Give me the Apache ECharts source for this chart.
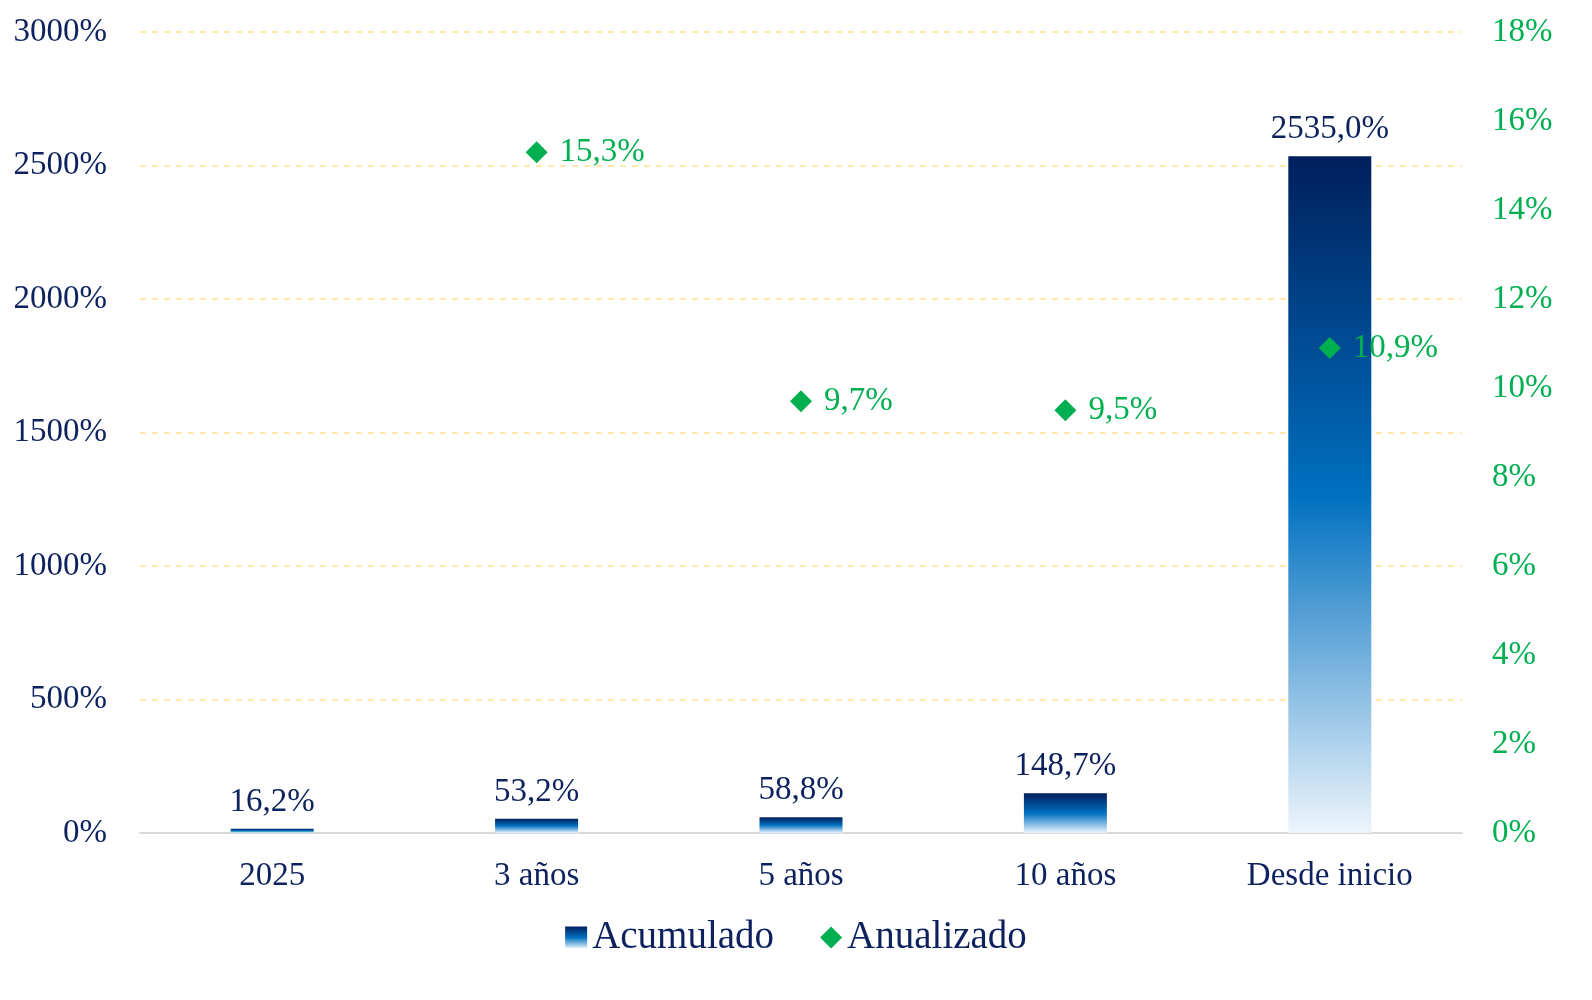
<!DOCTYPE html>
<html>
<head>
<meta charset="utf-8">
<script src="https://cdn.jsdelivr.net/npm/echarts@6/dist/echarts.min.js"></script>
<style>
html,body{margin:0;padding:0;background:#fff;}
#c{width:1592px;height:1000px;}
</style>
</head>
<body>
<div id="c"></div>
<script>
const categories = ['2025', '3 años', '5 años', '10 años', 'Desde inicio'];
const acumulado = [16.2, 53.2, 58.8, 148.7, 2535.0];
const anualizado = [null, 15.3, 9.7, 9.5, 10.9];
const leftTicks = {min: 0, max: 3000, interval: 500};
const rightTicks = {min: 0, max: 18, interval: 2};

const navy = '#0C215E';
const green = '#00B050';
const font = '"Liberation Serif", "Times New Roman", serif';

const barGradient = new echarts.graphic.LinearGradient(0, 0, 0, 1, [
  {offset: 0, color: '#001F5C'},
  {offset: 0.5, color: '#0070C0'},
  {offset: 1, color: '#EDF5FC'}
]);

const fmt = v => v.toFixed(1).replace('.', ',') + '%';

const chart = echarts.init(document.getElementById('c'));
chart.setOption({
  animation: false,
  textStyle: {fontFamily: font},
  grid: {left: 140, right: 130, top: 32, bottom: 167, containLabel: false},
  legend: {
    bottom: 38,
    left: 'center',
    itemWidth: 22,
    itemHeight: 22,
    itemGap: 46,
    textStyle: {fontFamily: font, fontSize: 39, color: navy},
    data: [
      {name: 'Acumulado', icon: 'rect'},
      {name: 'Anualizado', icon: 'diamond', itemStyle: {color: green, opacity: 1}}
    ]
  },
  xAxis: {
    type: 'category',
    data: categories,
    axisLine: {lineStyle: {color: '#D9D9D9', width: 2}},
    axisTick: {show: false},
    axisLabel: {color: navy, fontSize: 33, fontFamily: font, margin: 27}
  },
  yAxis: [
    {
      type: 'value',
      min: leftTicks.min, max: leftTicks.max, interval: leftTicks.interval,
      axisLine: {show: false},
      axisTick: {show: false},
      axisLabel: {color: navy, fontSize: 33, fontFamily: font, margin: 33, formatter: v => v + '%'},
      splitLine: {show: true, lineStyle: {color: '#FFE48F', type: [6, 6], width: 1.5}}
    },
    {
      type: 'value',
      min: rightTicks.min, max: rightTicks.max, interval: rightTicks.interval,
      position: 'right',
      axisLine: {show: false},
      axisTick: {show: false},
      axisLabel: {color: green, fontSize: 33, fontFamily: font, margin: 30, formatter: v => v + '%'},
      splitLine: {show: false}
    }
  ],
  series: [
    {
      name: 'Acumulado',
      type: 'bar',
      yAxisIndex: 0,
      data: acumulado,
      barWidth: 83,
      itemStyle: {color: barGradient},
      label: {
        show: true, position: 'top', distance: 10,
        color: navy, fontSize: 33, fontFamily: font,
        formatter: p => fmt(p.value)
      }
    },
    {
      name: 'Anualizado',
      type: 'scatter',
      yAxisIndex: 1,
      data: anualizado,
      symbol: 'diamond',
      symbolSize: 22,
      itemStyle: {color: green, opacity: 1},
      label: {
        show: true, position: 'right', distance: 12,
        color: green, fontSize: 33, fontFamily: font,
        formatter: p => fmt(p.value)
      },
      emphasis: {disabled: true},
      z: 5
    }
  ]
});
</script>
</body>
</html>
